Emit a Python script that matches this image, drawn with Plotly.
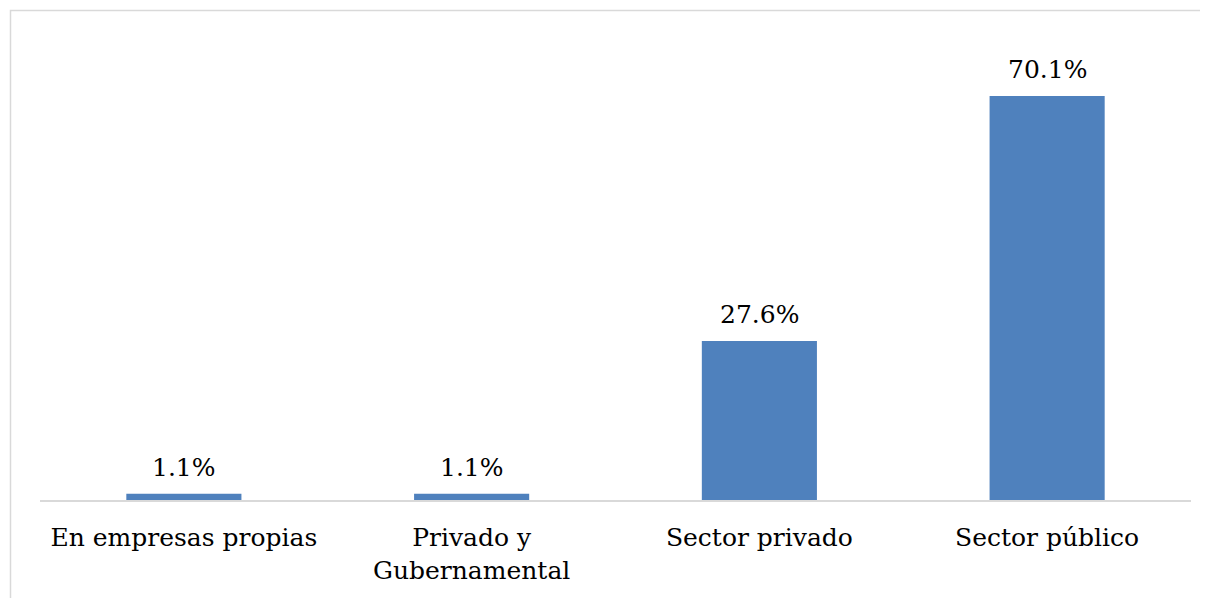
import plotly.graph_objects as go

categories = ["En empresas propias", "Privado y<br>Gubernamental", "Sector privado", "Sector público"]
values = [1.1, 1.1, 27.6, 70.1]
labels = ["1.1%", "1.1%", "27.6%", "70.1%"]

# page body has an 8px margin; figure is sized to fill the rest of the window
W, H = 1200, 590
ml, mr, mt, mb = 32, 17, 31, 98
pw, ph = W - ml - mr, H - mt - mb

def px_x(x):
    return (x - ml) / pw

def px_y(y):
    return (H - mb - y) / ph

FONT = "DejaVu Serif"

fig = go.Figure(go.Bar(
    x=categories, y=values,
    marker=dict(color="#4f81bd", line=dict(width=0)),
    hoverinfo="x+y",
))

annotations = [
    dict(x=c, y=v, text=t, xref="x", yref="y", showarrow=False,
         yanchor="bottom", yshift=10,
         font=dict(family=FONT, size=25, color="#000000"))
    for c, v, t in zip(categories, values, labels)
]

fig.update_layout(
    width=W, height=H,
    margin=dict(l=ml, r=mr, t=mt, b=mb, autoexpand=False),
    plot_bgcolor="white", paper_bgcolor="white",
    bargap=0.6, showlegend=False,
    font=dict(family=FONT, size=25, color="#000000"),
    xaxis=dict(showline=True, linecolor="#d9d9d9", linewidth=2, ticks="",
               showgrid=False, ticklabelstandoff=14,
               tickfont=dict(family=FONT, size=25, color="#000000")),
    yaxis=dict(range=[0, 80], visible=False, showgrid=False, zeroline=False),
    annotations=annotations,
    shapes=[dict(type="rect", xref="paper", yref="paper",
                 x0=px_x(2.5), x1=px_x(1240), y0=px_y(620), y1=px_y(2.5),
                 line=dict(color="#d9d9d9", width=1.5), fillcolor="rgba(0,0,0,0)", layer="below")],
)

fig.write_html("out.html")
